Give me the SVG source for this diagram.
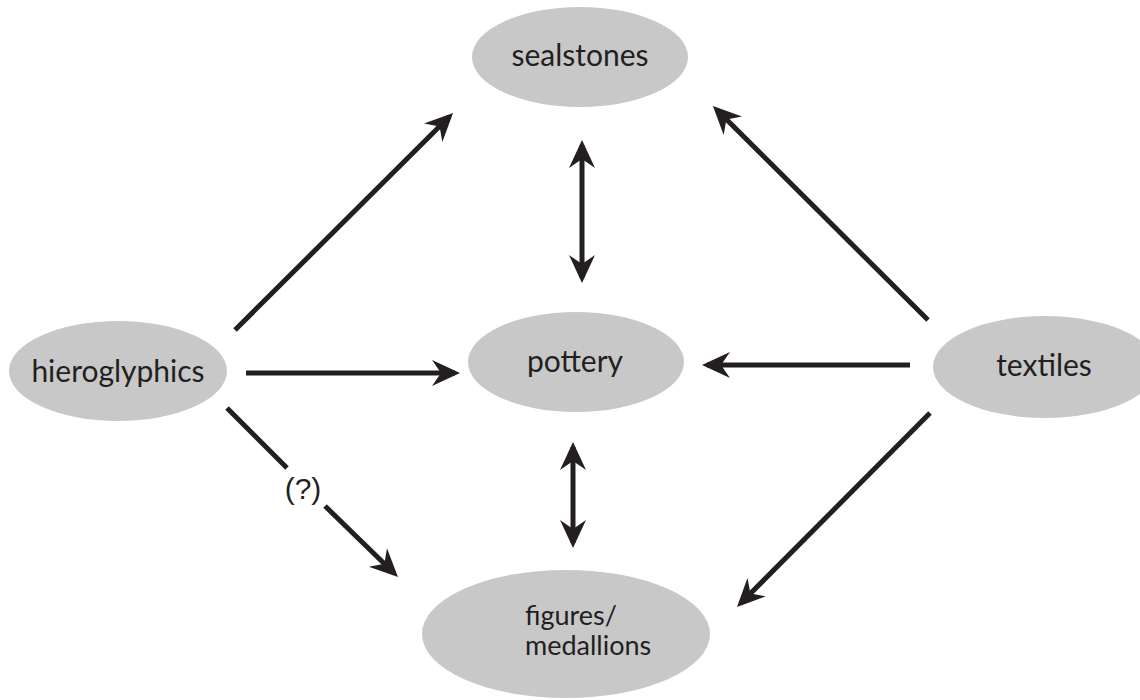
<svg xmlns="http://www.w3.org/2000/svg" width="1140" height="700" viewBox="0 0 1140 700">
<style>
.node{fill:#c8c8c8;}
.lbl{font-family:Lato,"Open Sans",sans-serif;font-size:30px;fill:#231f20;text-anchor:middle;}
.lbl2{font-family:Lato,"Open Sans",sans-serif;font-size:27px;fill:#231f20;}
.edge{stroke:#231f20;stroke-width:5;fill:none;}
.q{font-family:"Liberation Sans",Arial,sans-serif;font-size:30px;fill:#231f20;text-anchor:middle;}
</style>
<defs>
<marker id="ah" viewBox="0 0 28 28" refX="23" refY="14" markerWidth="28" markerHeight="28" markerUnits="userSpaceOnUse" orient="auto-start-reverse">
<path d="M28,14 L0,1 L9,14 L0,27 Z" fill="#231f20"/>
</marker>
</defs>
<rect width="1140" height="700" fill="#ffffff"/>
<g id="sealstones"><ellipse class="node" cx="580" cy="57" rx="108" ry="50"/><text class="lbl" x="580" y="66">sealstones</text></g>
<g id="hieroglyphics"><ellipse class="node" cx="118" cy="371" rx="109" ry="50"/><text class="lbl" x="118" y="382">hieroglyphics</text></g>
<g id="pottery"><ellipse class="node" cx="576" cy="362" rx="108" ry="50"/><text class="lbl" x="575" y="372">pottery</text></g>
<g id="textiles"><ellipse class="node" cx="1045" cy="367" rx="112" ry="51"/><text class="lbl" x="1044" y="376">textiles</text></g>
<g id="figures"><ellipse class="node" cx="566" cy="634" rx="144" ry="64"/><text class="lbl2" x="525" y="625">figures/</text><text class="lbl2" x="525" y="655">medallions</text></g>
<g id="connectors">
<line class="edge" x1="235" y1="330" x2="449.5" y2="116.5" marker-end="url(#ah)"/>
<line class="edge" x1="246" y1="373" x2="455" y2="373" marker-end="url(#ah)"/>
<line class="edge" x1="227" y1="408" x2="287" y2="468"/>
<line class="edge" x1="325" y1="506" x2="394.4" y2="573.5" marker-end="url(#ah)"/>
<text class="q" x="303" y="499">(?)</text>
<line class="edge" x1="582" y1="145" x2="582" y2="278" marker-start="url(#ah)" marker-end="url(#ah)"/>
<line class="edge" x1="573" y1="447" x2="573" y2="543" marker-start="url(#ah)" marker-end="url(#ah)"/>
<line class="edge" x1="928" y1="320" x2="716.5" y2="109.5" marker-end="url(#ah)"/>
<line class="edge" x1="910" y1="365" x2="707" y2="365" marker-end="url(#ah)"/>
<line class="edge" x1="930" y1="413" x2="740.5" y2="603.5" marker-end="url(#ah)"/>
</g>
</svg>
